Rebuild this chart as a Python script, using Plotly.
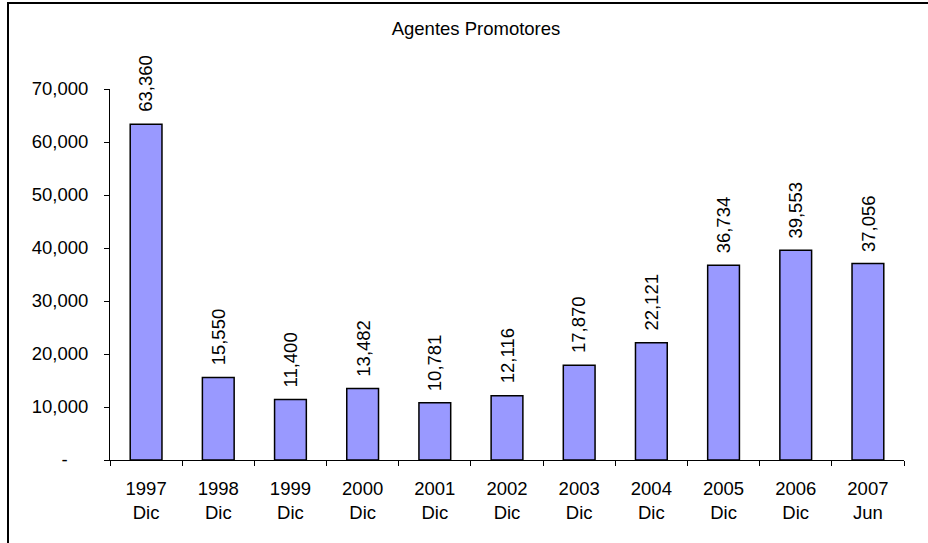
import plotly.graph_objects as go

# Agentes promotores, year-end counts (June for 2007)
years = ["1997", "1998", "1999", "2000", "2001", "2002", "2003", "2004", "2005", "2006", "2007"]
months = ["Dic", "Dic", "Dic", "Dic", "Dic", "Dic", "Dic", "Dic", "Dic", "Dic", "Jun"]
values = [63360, 15550, 11400, 13482, 10781, 12116, 17870, 22121, 36734, 39553, 37056]
y_ticks = [0, 10000, 20000, 30000, 40000, 50000, 60000, 70000]

categories = [f"{y}<br>{m}" for y, m in zip(years, months)]
y_ticktext = ["-" + "\u00a0" * 4] + [f"{v:,}" for v in y_ticks[1:]]

FONT = "Liberation Sans, Arial, sans-serif"
FS = 18.5

W, H = 928, 543
L, R, T, B = 110, 24, 89, 83
pw, ph = W - L - R, H - T - B


def px_x(p):
    return (p - L) / pw


def px_y(p):
    return (H - B - p) / ph


fig = go.Figure(
    go.Bar(
        x=categories,
        y=values,
        marker=dict(color="#9999FF", line=dict(color="#000000", width=1.5)),
        width=0.44,
        hoverinfo="skip",
    )
)

# rotated value labels above each bar
for c, v in zip(categories, values):
    fig.add_annotation(
        x=c, y=v, text=f"{v:,}", textangle=-90, showarrow=False,
        xanchor="center", yanchor="bottom", yshift=10,
        font=dict(family=FONT, size=FS, color="#000000"),
    )

# outer chart frame
fig.add_shape(
    type="rect", xref="paper", yref="paper",
    x0=px_x(8), x1=px_x(944), y0=px_y(548), y1=px_y(3),
    line=dict(color="#000000", width=2), fillcolor="rgba(0,0,0,0)",
    layer="below",
)

fig.update_layout(
    width=W, height=H,
    margin=dict(l=L, r=R, t=T, b=B),
    paper_bgcolor="#FFFFFF", plot_bgcolor="#FFFFFF",
    showlegend=False,
    font=dict(family=FONT, size=FS, color="#000000"),
    title=dict(
        text="Agentes Promotores", x=476 / W, y=1 - 29 / H,
        xanchor="center", yanchor="middle", xref="container", yref="container",
        font=dict(family=FONT, size=FS, color="#000000"),
    ),
    xaxis=dict(
        type="category", range=[-0.5, 10.5], tickson="boundaries",
        ticks="outside", ticklen=5, tickcolor="#000000", tickwidth=1,
        ticklabelstandoff=12,
        showline=True, linecolor="#000000", linewidth=1,
        showgrid=False, zeroline=False, tickangle=0,
        fixedrange=True,
    ),
    yaxis=dict(
        range=[0, 70000], tickvals=y_ticks, ticktext=y_ticktext,
        ticks="outside", ticklen=5, tickcolor="#000000", tickwidth=1,
        ticklabelstandoff=12,
        showline=True, linecolor="#000000", linewidth=1,
        showgrid=False, zeroline=False, fixedrange=True,
    ),
)

fig.write_html("out.html")
